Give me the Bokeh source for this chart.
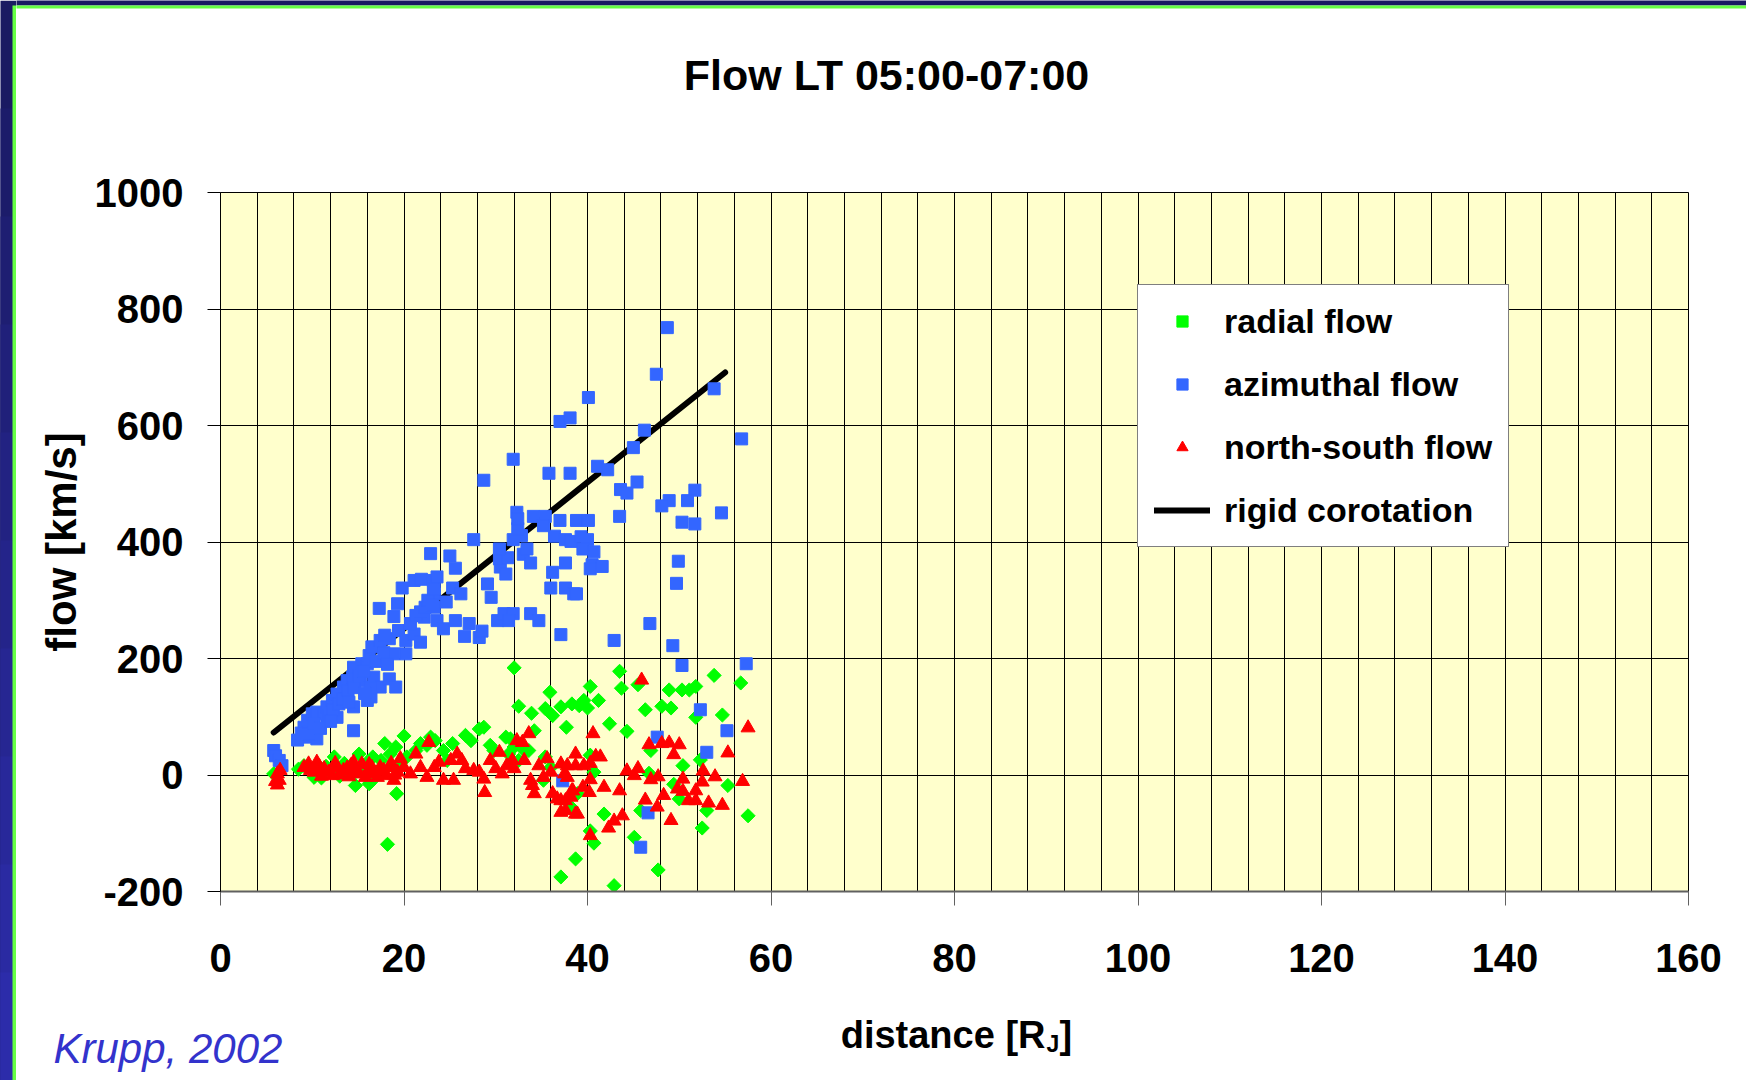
import math
from bokeh.plotting import figure
from bokeh.layouts import row, column
from bokeh.models import Label, Legend, LegendItem, FixedTicker, Range1d
from bokeh.embed import file_html
from bokeh.resources import INLINE

# ---------------- data ----------------
title_text = "Flow LT 05:00-07:00"
x_label_main = "distance [R"
x_label_sub = "J"
x_label_end = "]"
y_label = "flow [km/s]"
credit_text = "Krupp, 2002"
x_ticks = [0, 20, 40, 60, 80, 100, 120, 140, 160]
y_ticks = [-200, 0, 200, 400, 600, 800, 1000]
x_grid = list(range(0, 161, 4))

# rigid corotation (end points)
corot_x = [5.8, 55.0]
corot_y = [73, 691]

# azimuthal flow (blue squares)
az_x = [5.8, 6.0, 6.4, 6.7,
        9.3, 10.5, 9.1, 9.5, 11.6, 10.0, 10.5, 11.3, 12.7, 11.6, 12.2, 12.7, 13.8, 14.5, 14.5,
        16.0, 16.4, 13.4, 13.8, 15.3, 14.4, 16.7, 17.4, 18.4, 19.1, 14.5, 15.4, 16.0, 16.2,
        16.5, 17.4, 18.4, 17.9, 18.9, 20.2, 19.4, 20.2, 21.1, 21.8, 20.7, 22.2, 18.9, 17.3,
        19.3, 19.8, 22.7, 23.3, 21.1, 23.3, 23.3,
        8.4, 8.8, 9.6, 10.2, 10.9, 11.8, 12.3, 12.9, 13.3, 13.9, 14.6, 15.1, 15.6, 16.3,
        16.9, 17.8, 18.2, 15.7, 14.0, 12.0,
        21.3, 21.8, 22.3, 22.6, 23.1, 24.6, 23.6, 24.3, 25.6, 27.1, 26.6, 28.2, 28.5, 30.2,
        30.9, 31.9, 31.4, 33.8, 34.7, 37.1, 36.0, 37.6, 38.5, 29.1, 29.5, 25.3, 26.2, 23.2,
        21.9, 23.6, 23.2, 22.9, 25.0, 25.6, 30.5, 31.1, 30.4, 31.3, 33.0, 33.4, 30.4, 33.8,
        27.6, 31.9, 32.8, 32.4, 36.4, 37.6, 38.2, 39.3, 40.0, 39.5, 40.7, 37.6, 40.5, 41.6,
        40.3, 36.2, 38.8, 49.9, 49.7, 32.3, 32.4, 34.1, 35.4, 35.2, 37.0, 38.8, 40.1, 43.5,
        28.7, 31.9, 35.8, 38.1, 41.1, 42.2, 43.6, 45.4, 44.3, 45.0, 46.2, 37.0, 38.1, 40.1,
        47.5, 48.7, 53.8, 56.8, 51.7, 50.9, 48.9, 48.1, 54.6, 50.3, 51.7, 46.8, 42.9, 49.3,
        50.3, 57.3, 52.3, 55.2, 47.6, 53.0, 46.6, 45.8, 37.3]
az_y = [42, 33, 25, 16,
        65, 62, 82, 94, 94, 105, 108, 105, 99, 117, 128, 139, 134, 117, 76,
        128, 134, 151, 162, 162, 168, 168, 151, 165, 151, 185, 191, 191, 205,
        220, 231, 234, 240, 208, 208, 248, 231, 242, 228, 260, 271, 272, 286,
        294, 321, 294, 288, 334, 320, 311,
        60, 72, 70, 88, 80, 102, 112, 122, 130, 145, 150, 170, 178, 150,
        195, 210, 190, 140, 125, 92,
        274, 280, 288, 300, 291, 297, 265, 251, 265, 260, 238, 236, 247, 265,
        277, 277, 265, 277, 265, 241, 321, 321, 311, 328, 305, 321, 311, 334,
        336, 340, 319, 380, 376, 355, 357, 345, 371, 373, 379, 388, 388, 364,
        404, 404, 411, 423, 410, 404, 401, 409, 404, 388, 383, 364, 361, 358,
        354, 348, 311, 367, 329, 451, 440, 444, 444, 428, 437, 437, 437, 444,
        506, 542, 518, 518, 530, 524, 490, 503, 484, 562, 592, 607, 613, 648,
        688, 768, 663, 577, 489, 471, 471, 462, 450, 434, 431, 260, 231, 222,
        188, 191, 112, 76, 65, 39, -65, -124, -10]

# radial flow (green diamonds)
rad_x = [5.8, 9.1, 10.2, 12.4, 14.5, 14.7, 15.1, 16.0, 16.6, 16.2, 17.9, 18.5, 19.1, 19.2,
         18.2, 20.0, 20.3, 21.3, 21.8, 22.5, 22.9, 23.4, 24.3, 24.7, 25.3, 26.7, 27.3, 28.2,
         28.7, 29.4, 29.8, 31.1, 31.6, 32.0, 31.4, 32.5, 33.1, 33.6, 34.2, 35.4, 36.0, 35.2,
         32.0, 35.9, 32.5, 33.9, 35.4, 36.2, 37.1, 38.3, 39.1, 37.7, 38.2, 38.9, 37.1, 38.7,
         43.5, 40.3, 43.7, 45.5, 48.9, 50.3, 51.1, 51.8, 53.8, 56.7, 41.2, 39.6, 40.0, 46.3,
         48.1, 49.1, 51.8, 54.7, 42.4, 44.3, 46.9, 40.3, 40.7, 50.4, 52.3, 46.7, 49.4, 55.3,
         50.0, 53.0, 45.8, 41.8, 57.5, 40.3, 40.7, 45.1, 52.5, 47.7, 42.9,
         8.5, 10.8, 11.5, 12.8, 13.5, 15.5, 17.0, 17.5, 19.5, 11.0, 13.0, 16.5]
rad_y = [2, 16, -4, 31, 2, -18, 36, 22, 31, -15, 54, 36, 48, -32,
         -119, 67, 31, 42, 54, 51, 65, 59, 42, 25, 54, 68, 59, 79,
         82, 51, 42, 65, 62, 48, 36, 25, 42, 42, 76, 31, 13, -9,
         184, 142, 118, 106, 114, 102, 117, 122, 119, 82, -55, -32, -175, -144,
         178, 152, 149, 155, 146, 146, 146, 152, 171, 158, 128, 128, 115, 112,
         118, 115, 99, 103, 88, 75, 42, 34, 5, 16, 26, 3, -16, -18,
         -41, -61, -61, -67, -70, -96, -117, -107, -91, -163, -190,
         10, 5, 15, 8, 20, 10, 5, 25, 20, -5, -2, -10]

# north-south flow (red triangles)
ns_x = [6.2, 6.4, 6.0, 6.5, 6.2, 9.1, 9.6, 10.5, 10.2, 11.3, 12.2, 12.7, 13.4, 14.2, 14.7,
        15.4, 16.0, 16.5, 17.1, 17.4, 18.0, 18.4, 18.9, 19.6, 19.3, 20.0, 20.7, 21.3, 21.8,
        22.7, 22.5, 23.3, 23.8, 24.3, 25.1, 25.4, 25.8, 26.3, 26.7, 27.6, 28.2, 28.7, 28.8,
        29.4, 30.0, 30.4, 30.7, 31.2, 31.8, 32.0, 32.3, 32.9, 33.6, 33.1, 33.8, 34.0, 34.2,
        34.7, 35.2, 35.6, 36.0, 36.2, 36.7, 37.1, 37.6, 37.8, 38.7, 38.7, 38.3, 37.1, 37.8,
        38.7, 39.6, 40.3, 40.6, 40.9, 41.4, 37.5, 37.1, 38.2, 37.6, 38.9, 38.4, 39.5, 40.2,
        40.3, 41.8, 43.5, 44.3, 45.5, 45.1, 46.9, 47.7, 45.9, 46.7, 48.1, 48.9, 50.0, 49.4,
        55.3, 57.5, 46.3, 48.3, 47.6, 49.1, 50.4, 49.8, 50.4, 51.0, 51.8, 51.8, 52.5, 52.6,
        53.9, 53.2, 54.7, 56.9, 43.8, 42.9, 42.3, 40.3,
        9.8, 10.8, 11.8, 12.5, 13.0, 13.8, 14.5, 15.0, 15.8, 16.2, 16.8, 17.8, 18.6, 19.0,
        11.0, 14.0]
ns_y = [2, -9, -11, 8, -17, 13, 19, 22, 5, 11, -1, 13, 8, 16, 2,
        19, 5, 13, -4, 13, -1, 13, -9, 28, 5, 13, 2, 36, 13,
        56, -4, 13, 22, -9, 25, -9, 36, 25, 11, 8, 5, -7, -30,
        25, 11, 39, 2, 16, 25, 11, 59, 56, 71, 25, -9, -18, -32,
        16, -4, 28, 5, -32, -41, -64, -44, -4, 36, -67, -27, 19, 16,
        16, 16, 20, 71, 32, 31, 2, -44, -38, -61, -67, -27, -21, -30,
        -8, -21, -27, 7, 11, -1, -8, -3, 163, 52, 54, 55, 52, 35,
        38, 81, -43, -35, -55, -78, -7, -24, -28, -44, -44, -27, -12, 7,
        -3, -48, -52, -11, -70, -79, -91, -104,
        8, 14, 5, 20, 0, 12, 22, 6, -4, 18, 2, 8, 20, 0,
        -2, -3]

# ---------------- layout constants (page pixels) ----------------
FONT = "Liberation Sans"
TOTAL_W = 1746
STRIP_W = 16
MAIN_W = TOTAL_W - STRIP_W
TOP_H = 150
MAIN_H = 850
BOT_H = 80
TOTAL_H = TOP_H + MAIN_H + BOT_H
NAVY = ["#1a1a62", "#1c1c6a", "#1e1e72", "#20207a", "#222282",
        "#24248a", "#262692", "#28289a", "#2a2aa2", "#2c2caa"]
GREEN = "#66FF44"
BASE_SHIFT = 0.36   # baseline correction (fraction of font size)


def blank_fig(x0, x1, y0, y1):
    """Figure whose frame is the page rectangle x0..x1, y0..y1 (page coords, y down)."""
    f = figure(width=x1 - x0, height=y1 - y0,
               x_range=Range1d(x0, x1), y_range=Range1d(y1, y0),
               output_backend="svg", toolbar_location=None,
               x_axis_location=None, y_axis_location=None,
               min_border=0, title=None)
    f.outline_line_color = None
    f.background_fill_color = "white"
    f.border_fill_color = "white"
    f.grid.grid_line_color = None
    return f


def text(fig, txt, x, y, size, style="bold", align="left", color="black"):
    px = float(size.replace("px", ""))
    fig.add_layout(Label(x=x, y=y - BASE_SHIFT * px, text=txt, text_font=FONT,
                         text_font_style=style, text_font_size=size, text_align=align,
                         text_baseline="alphabetic", text_color=color))


# left decorative strip (page x 0..16)
strip = blank_fig(0, STRIP_W, 0, TOTAL_H)
n = len(NAVY)
band = TOTAL_H / n
strip.quad(left=[-2] * n, right=[STRIP_W + 2] * n,
           top=[i * band for i in range(n)], bottom=[TOTAL_H + 2] * n,
           fill_color=NAVY, line_color=None)
strip.quad(left=[12], right=[STRIP_W + 2], top=[5], bottom=[TOTAL_H + 2],
           fill_color=GREEN, line_color=None)

# title band (page y 0..150)
top = blank_fig(STRIP_W, TOTAL_W, 0, TOP_H)
top.quad(left=[STRIP_W - 3], right=[TOTAL_W + 3], top=[-2], bottom=[5],
         fill_color=NAVY[0], line_color=None)
top.quad(left=[STRIP_W - 3], right=[TOTAL_W + 3], top=[5], bottom=[8],
         fill_color=GREEN, line_color=None)
text(top, title_text, 886, 90, "43px", align="center")

# ---------------- main figure ----------------
p = figure(width=MAIN_W, height=MAIN_H, title=None,
           x_range=Range1d(0, 160), y_range=Range1d(-200, 1000),
           output_backend="svg", toolbar_location=None,
           min_border_left=204, min_border_right=TOTAL_W - 1688,
           min_border_top=42, min_border_bottom=109)
p.background_fill_color = "#FFFFCC"
p.border_fill_color = "white"
p.outline_line_color = "black"
p.outline_line_width = 1

p.xaxis.ticker = FixedTicker(ticks=x_ticks)
p.yaxis.ticker = FixedTicker(ticks=y_ticks)
p.yaxis.major_label_overrides = {t: str(t) for t in y_ticks}
p.xgrid.ticker = FixedTicker(ticks=x_grid)
p.ygrid.ticker = FixedTicker(ticks=y_ticks)
for g in (p.xgrid, p.ygrid):
    g.grid_line_color = "black"
    g.grid_line_width = 1
    g.grid_line_alpha = 1.0

for ax in (p.xaxis, p.yaxis):
    ax.major_label_text_font = FONT
    ax.major_label_text_font_style = "bold"
    ax.major_label_text_font_size = "40px"
    ax.major_label_text_color = "black"
    ax.minor_tick_line_color = None
    ax.major_tick_in = 0
p.xaxis.major_tick_out = 14
p.xaxis.axis_line_color = "#606060"
p.xaxis.axis_line_width = 2
p.xaxis.major_tick_line_color = "#606060"
p.xaxis.major_label_standoff = 38
p.yaxis.major_tick_out = 13
p.yaxis.axis_line_color = "black"
p.yaxis.major_tick_line_color = "black"
p.yaxis.major_label_standoff = 24
p.yaxis.axis_label = y_label
p.yaxis.axis_label_text_font = FONT
p.yaxis.axis_label_text_font_style = "bold"
p.yaxis.axis_label_text_font_size = "42px"
p.yaxis.axis_label_text_color = "black"
p.yaxis.axis_label_standoff = 7

r_line = p.line(corot_x, corot_y, line_color="black", line_width=6, line_cap="round")
r_rad = p.scatter(rad_x, rad_y, marker="square", angle=math.pi / 4, size=10,
                  fill_color="#00FF00", line_color="#00FF00")
r_az = p.scatter(az_x, az_y, marker="square", size=12,
                 fill_color="#3366FF", line_color="#3366FF")
r_ns = p.scatter(ns_x, ns_y, marker="triangle", size=14,
                 fill_color="#FF0000", line_color="#FF0000")

legend = Legend(items=[
    LegendItem(label="radial flow", renderers=[r_rad]),
    LegendItem(label="azimuthal flow", renderers=[r_az]),
    LegendItem(label="north-south flow", renderers=[r_ns]),
    LegendItem(label="rigid corotation", renderers=[r_line]),
], location=(917, 344))
legend.label_text_font = FONT
legend.label_text_font_style = "bold"
legend.label_text_font_size = "34px"
legend.label_text_color = "black"
legend.glyph_width = 56
legend.glyph_height = 28
legend.label_height = 40
legend.label_standoff = 14
legend.padding = 16
legend.spacing = 23
legend.margin = 0
legend.border_line_color = "black"
legend.border_line_width = 1
legend.background_fill_color = "white"
legend.background_fill_alpha = 1.0
p.add_layout(legend)

# ---------------- bottom band (page y 1000..1080) ----------------
y_b0 = TOP_H + MAIN_H
bot = blank_fig(STRIP_W, TOTAL_W, y_b0, TOTAL_H)
text(bot, x_label_main, 1045, 1048, "38px", align="right")
text(bot, x_label_sub, 1046, 1052, "23px")
text(bot, x_label_end, 1059, 1048, "38px")
text(bot, credit_text, 53, 1063, "42px", style="italic", color="#3333CC")

layout = row(strip,
             column(row(top, spacing=0), p, row(bot, spacing=0), spacing=0),
             spacing=0)
open("out.html", "w").write(file_html(layout, INLINE))
